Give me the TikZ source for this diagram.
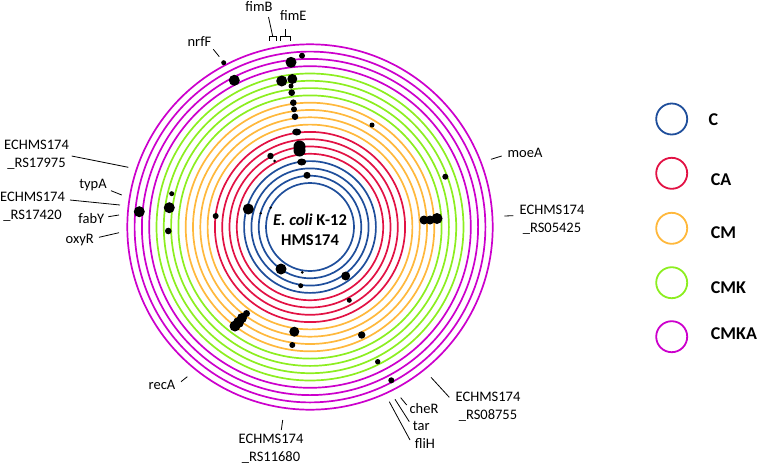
\documentclass[tikz,border=0pt]{standalone}
\usepackage{fontspec}
\setmainfont{Carlito}
\usepackage{tikz}

\definecolor{cblue}{RGB}{31,78,155}
\definecolor{cred}{RGB}{226,18,68}
\definecolor{corange}{RGB}{255,184,60}
\definecolor{cgreen}{RGB}{140,238,32}
\definecolor{cmag}{RGB}{204,0,204}

\tikzset{
    ring/.style={line width=1.7pt},
    lead/.style={line width=0.8pt},
    gene/.style={inner sep=0pt, align=center, font=\fontsize{14.5}{17.5}\selectfont},
    legring/.style={circle, draw, line width=1.8pt, minimum size=31pt, inner sep=0pt},
    legtext/.style={inner sep=0pt, anchor=west, font=\fontsize{18}{21}\selectfont\bfseries},
}

\begin{document}
\begin{tikzpicture}[x=1pt,y=-1pt]
        \useasboundingbox (0,0) rectangle (760,466);
        \coordinate (ctr) at (310,227);

        \foreach \col [count=\g from 0] in {cblue,cred,corange,cgreen,cmag}
            \foreach \k in {0,...,3}
                \draw[ring,\col] (ctr) circle[radius={(44+(4*\g+\k)*7.3)*1pt}];

        \foreach \x/\y/\rad in {223.7/62.7/2.5, 302/55.7/3, 291/62.3/5.5, 234.3/80.3/5.5,
                281.7/81/5.5, 292.3/79/5, 291/86/2.5, 291.7/92.7/3.3, 293.3/102.7/3.3,
                294/109.3/3, 295/116.7/3.3, 372/125/2.5, 299.5/146.5/6, 299.5/150.5/6,
                270.5/156/3.2, 274.5/161/1.5, 307/175.3/3.5, 248.3/209/5.5, 260.7/213.3/1.3,
                270.7/207.7/1.3, 215.7/216/3, 424/220/4.5, 430/220/4.5, 437/218.5/5.5,
                445.3/176.7/3, 281/269/5.5, 302.3/272.3/1.5, 345.7/276/4.5, 300.7/285.7/2.5,
                349.3/300.3/2.5, 246.5/313.5/3.5, 242/318/5, 238.5/322.5/5.5, 235/326/5.5,
                294.3/331.7/5, 361.7/335/3.7, 292.3/345/3, 377.7/361.7/2.7, 391.3/380.3/3,
                171.7/193.7/2.5, 139.3/211.7/5.5, 169.3/207.7/5.5, 168.3/231/3.3}
            \fill[black] (\x,\y) circle[radius=\rad pt];
        \fill[black] (296.7,132) ellipse[x radius=4.5pt, y radius=3.5pt];
        \fill[black] (301.7,162) ellipse[x radius=4.5pt, y radius=3.5pt];

        \node[inner sep=0pt, align=center, font=\fontsize{16.5}{20}\selectfont\bfseries] (strain) at (310,230) {\textit{E. coli} K-12\\HMS174};

        \coordinate (nrfF-in) at (219.3,56.7);
        \coordinate (nrfF-out) at (213.3,49.3);
        \node[gene] (nrfF) at (199.5,41.5) {nrfF};
        \draw[lead] (nrfF-in) -- (nrfF-out);

        \coordinate (fimB-l) at (269.3,40.7);
        \coordinate (fimB-r) at (276.3,40.7);
        \coordinate (fimB-in) at (272.8,36.7);
        \coordinate (fimB-out) at (268.5,17);
        \node[gene] (fimB) at (259,6.3) {fimB};
        \draw[lead] (fimB-l) |- (fimB-in) -| (fimB-r);
        \draw[lead] (fimB-in) -- (fimB-out);

        \coordinate (fimE-l) at (280.7,40.7);
        \coordinate (fimE-r) at (290.7,40.7);
        \coordinate (fimE-in) at (285.7,36.7);
        \coordinate (fimE-out) at (285.7,28.5);
        \node[gene] (fimE) at (293.3,15) {fimE};
        \draw[lead] (fimE-l) |- (fimE-in) -| (fimE-r);
        \draw[lead] (fimE-in) -- (fimE-out);

        \coordinate (moeA-in) at (491,159.3);
        \coordinate (moeA-out) at (501.7,156);
        \node[gene] (moeA) at (525,152.8) {moeA};
        \draw[lead] (moeA-in) -- (moeA-out);

        \coordinate (rs05425-in) at (504.3,216);
        \coordinate (rs05425-out) at (513.3,215.7);
        \node[gene] (rs05425) at (552,220) {ECHMS174\\\_RS05425};
        \draw[lead] (rs05425-in) -- (rs05425-out);

        \coordinate (rs08755-in) at (431,377.3);
        \coordinate (rs08755-out) at (449.3,397.3);
        \node[gene] (rs08755) at (488,406.7) {ECHMS174\\\_RS08755};
        \draw[lead] (rs08755-in) -- (rs08755-out);

        \coordinate (cheR-in) at (400.7,397.7);
        \coordinate (cheR-out) at (406.7,405);
        \node[gene] (cheR) at (424,408.7) {cheR};
        \draw[lead] (cheR-in) -- (cheR-out);

        \coordinate (tar-in) at (395,399.3);
        \coordinate (tar-out) at (409.3,421.7);
        \node[gene] (tar) at (421.3,426.2) {tar};
        \draw[lead] (tar-in) -- (tar-out);

        \coordinate (fliH-in) at (389.3,401.7);
        \coordinate (fliH-out) at (410,440);
        \node[gene] (fliH) at (425,444) {fliH};
        \draw[lead] (fliH-in) -- (fliH-out);

        \coordinate (rs11680-in) at (282.7,420);
        \coordinate (rs11680-out) at (281.3,430);
        \node[gene] (rs11680) at (271,448.8) {ECHMS174\\\_RS11680};
        \draw[lead] (rs11680-in) -- (rs11680-out);

        \coordinate (recA-in) at (187.3,376.7);
        \coordinate (recA-out) at (181,381.7);
        \node[gene] (recA) at (162,385) {recA};
        \draw[lead] (recA-in) -- (recA-out);

        \coordinate (rs17975-in) at (128.3,167.3);
        \coordinate (rs17975-out) at (71.7,156);
        \node[gene] (rs17975) at (36.5,155) {ECHMS174\\\_RS17975};
        \draw[lead] (rs17975-in) -- (rs17975-out);

        \coordinate (typA-in) at (121.7,195);
        \coordinate (typA-out) at (111,190.7);
        \node[gene] (typA) at (93,184.7) {typA};
        \draw[lead] (typA-in) -- (typA-out);

        \coordinate (rs17420-in) at (120,205);
        \coordinate (rs17420-out) at (70,200);
        \node[gene] (rs17420) at (32.5,206.7) {ECHMS174\\\_RS17420};
        \draw[lead] (rs17420-in) -- (rs17420-out);

        \coordinate (fabY-in) at (119,215);
        \coordinate (fabY-out) at (108.3,216.7);
        \node[gene] (fabY) at (91.3,219) {fabY};
        \draw[lead] (fabY-in) -- (fabY-out);

        \coordinate (oxyR-in) at (119,232.7);
        \coordinate (oxyR-out) at (99,237.3);
        \node[gene] (oxyR) at (79.7,240) {oxyR};
        \draw[lead] (oxyR-in) -- (oxyR-out);

        \node[legring, draw=cblue] (legC) at (671.7,119) {};
        \node[legring, draw=cred] (legCA) at (671.7,173.3) {};
        \node[legring, draw=corange] (legCM) at (671.7,228.3) {};
        \node[legring, draw=cgreen] (legCMK) at (671.7,282.7) {};
        \node[legring, draw=cmag] (legCMKA) at (671.7,336.7) {};
        \node[legtext] (labC) at (708.5,120) {C};
        \node[legtext] (labCA) at (710.7,179.7) {CA};
        \node[legtext] (labCM) at (710.7,232.5) {CM};
        \node[legtext] (labCMK) at (710.7,287.5) {CMK};
        \node[legtext] (labCMKA) at (710.7,334) {CMKA};
    \end{tikzpicture}
\end{document}
